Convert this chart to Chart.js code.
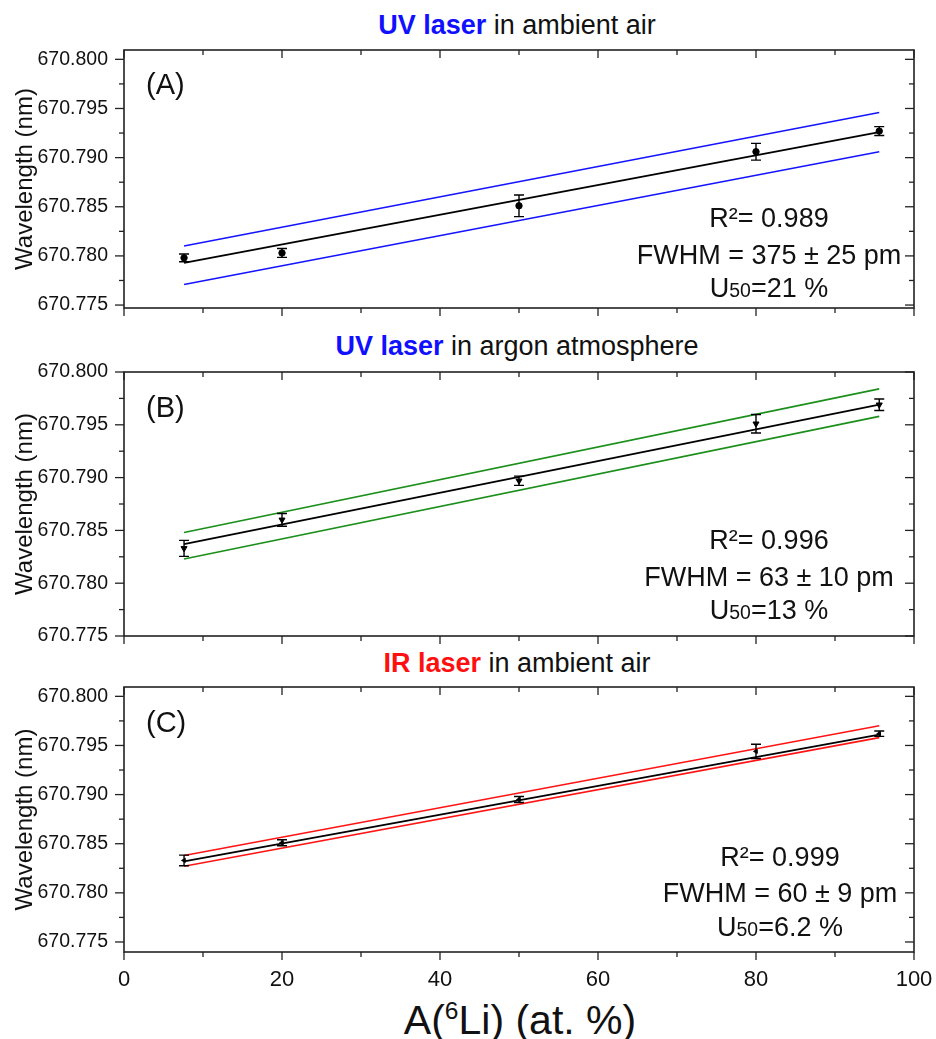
<!DOCTYPE html>
<html>
<head>
<meta charset="utf-8">
<script src="https://cdn.jsdelivr.net/npm/chart.js@4.4.1/dist/chart.umd.min.js"></script>
<style>
  body { margin: 0; background: #fff; font-family: "Liberation Sans", Arial, sans-serif; color: #111; }
  #wrap { position: relative; width: 936px; height: 1039px; overflow: hidden; }
  canvas { position: absolute; left: 0; }
  .title { position: absolute; left: 517px; transform: translate(-50%, -50%); font-size: 27px; white-space: nowrap; line-height: 1; }
  .note { position: absolute; transform: translate(-50%, -50%); font-size: 27px; white-space: nowrap; line-height: 1; }
  .tag { position: absolute; left: 146px; transform: translateY(-50%); font-size: 29px; line-height: 1; }
  .xtitle { position: absolute; left: 520px; top: 1020px; transform: translate(-50%, -50%); font-size: 41px; white-space: nowrap; line-height: 1; }
  .sub { font-size: 0.72em; }
  sup { font-size: 0.6em; }
</style>
</head>
<body>
<div id="wrap">
  <div class="title" style="top:25px"><b style="color:#1010ff">UV laser</b> in ambient air</div>
  <div class="title" style="top:346px"><b style="color:#1010ff">UV laser</b> in argon atmosphere</div>
  <div class="title" style="top:663px"><b style="color:#ff1010">IR laser</b> in ambient air</div>

  <canvas id="chartA" width="936" height="282" style="top:38px"></canvas>
  <canvas id="chartB" width="936" height="288" style="top:360px"></canvas>
  <canvas id="chartC" width="936" height="317" style="top:675px"></canvas>

  <div class="tag" style="top:84px">(A)</div>
  <div class="tag" style="top:407px">(B)</div>
  <div class="tag" style="top:722px">(C)</div>

  <div class="note" style="left:769px;top:218px">R²= 0.989</div>
  <div class="note" style="left:769px;top:255px">FWHM = 375 ± 25 pm</div>
  <div class="note" style="left:769px;top:288px">U<span class="sub">50</span>=21 %</div>

  <div class="note" style="left:769px;top:540px">R²= 0.996</div>
  <div class="note" style="left:769px;top:577px">FWHM = 63 ± 10 pm</div>
  <div class="note" style="left:769px;top:610px">U<span class="sub">50</span>=13 %</div>

  <div class="note" style="left:780px;top:857px">R²= 0.999</div>
  <div class="note" style="left:780px;top:893px">FWHM = 60 ± 9 pm</div>
  <div class="note" style="left:780px;top:927px">U<span class="sub">50</span>=6.2 %</div>

  <div class="xtitle">A(<sup>6</sup>Li) (at. %)</div>
</div>

<script>
// sample 6Li abundance (at. %)
const abundance = [7.6, 20, 50, 80, 95.6];
// x range of the fitted / band lines
const lineX = [7.6, 95.6];

// (A) UV laser, ambient air
const waveA = [670.7798, 670.7803, 670.7851, 670.7906, 670.7927];
const errA = [0.0004, 0.00045, 0.0011, 0.00085, 0.00045];
const fitA = [670.7793, 670.7926];
const upperA = [670.7810, 670.7946];
const lowerA = [670.7771, 670.7906];

// (B) UV laser, argon
const waveB = [670.7833, 670.7860, 670.7897, 670.7951, 670.7969];
const errB = [0.00076, 0.0006, 0.00044, 0.00088, 0.00055];
const fitB = [670.7837, 670.7969];
const upperB = [670.7848, 670.7984];
const lowerB = [670.7823, 670.7958];

// (C) IR laser, ambient air
const waveC = [670.7833, 670.7851, 670.7895, 670.7944, 670.7962];
const errC = [0.00054, 0.0003, 0.0003, 0.00073, 0.00027];
const fitC = [670.7832, 670.7961];
const upperC = [670.7838, 670.7970];
const lowerC = [670.7827, 670.7958];

const xTicks = [0, 20, 40, 60, 80, 100];
const yTicks = [670.775, 670.780, 670.785, 670.790, 670.795, 670.800];

const fontName = '"Liberation Sans", Arial, sans-serif';
const axisColor = '#222';

// box, inward/outward ticks and minor ticks
const framePlugin = {
    id: 'frame',
    afterDraw: (chart) => {
        const ctx = chart.ctx;
        const a = chart.chartArea;
        const xs = chart.scales.x;
        const ys = chart.scales.y;
        ctx.save();
        ctx.strokeStyle = axisColor;
        ctx.lineWidth = 1.6;
        ctx.setLineDash([]);
        ctx.strokeRect(a.left, a.top, a.right - a.left, a.bottom - a.top);
        ctx.lineWidth = 1.3;
        function seg(x1, y1, x2, y2) {
            ctx.beginPath();
            ctx.moveTo(x1, y1);
            ctx.lineTo(x2, y2);
            ctx.stroke();
        }
        // x: major + minor
        for (let i = 0; i < xTicks.length; i++) {
            const px = xs.getPixelForValue(xTicks[i]);
            seg(px, a.bottom, px, a.bottom + 8);
            seg(px, a.top, px, a.top + 8);
            if (i < xTicks.length - 1) {
                const pm = xs.getPixelForValue((xTicks[i] + xTicks[i + 1]) / 2);
                seg(pm, a.bottom, pm, a.bottom + 5);
                seg(pm, a.top, pm, a.top + 5);
            }
        }
        // y: major + minor
        for (let i = 0; i < yTicks.length; i++) {
            const py = ys.getPixelForValue(yTicks[i]);
            seg(a.left - 9, py, a.left, py);
            seg(a.right - 9, py, a.right, py);
            if (i < yTicks.length - 1) {
                const pm = ys.getPixelForValue((yTicks[i] + yTicks[i + 1]) / 2);
                seg(a.left - 5, pm, a.left, pm);
                seg(a.right - 5, pm, a.right, pm);
            }
        }
        ctx.restore();
    }
};

// vertical error bars with caps
const errorBarPlugin = {
    id: 'errorBars',
    afterDatasetsDraw: (chart) => {
        const ctx = chart.ctx;
        const xs = chart.scales.x;
        const ys = chart.scales.y;
        chart.data.datasets.forEach(ds => {
            if (!ds.errors) return;
            ctx.save();
            ctx.strokeStyle = '#000';
            ctx.lineWidth = 1.4;
            ds.data.forEach((p, i) => {
                const px = xs.getPixelForValue(p.x);
                const top = ys.getPixelForValue(p.y + ds.errors[i]);
                const bot = ys.getPixelForValue(p.y - ds.errors[i]);
                ctx.beginPath();
                ctx.moveTo(px, top); ctx.lineTo(px, bot);
                ctx.moveTo(px - 5, top); ctx.lineTo(px + 5, top);
                ctx.moveTo(px - 5, bot); ctx.lineTo(px + 5, bot);
                ctx.stroke();
            });
            ctx.restore();
        });
    }
};

function pairs(xv, yv) {
    return xv.map((x, i) => ({ x: x, y: yv[i] }));
}

function makePanel(id, wave, err, fit, upper, lower, bandColor, marker, yMin, yMax, showXLabels) {
    const xAxisHeight = showXLabels ? 40 : 12;
    return new Chart(document.getElementById(id).getContext('2d'), {
        type: 'scatter',
        data: {
            datasets: [
                { data: pairs(lineX, upper), showLine: true, borderColor: bandColor, borderWidth: 1.6, pointRadius: 0 },
                { data: pairs(lineX, lower), showLine: true, borderColor: bandColor, borderWidth: 1.6, pointRadius: 0 },
                { data: pairs(lineX, fit), showLine: true, borderColor: '#000', borderWidth: 1.8, pointRadius: 0 },
                {
                    data: pairs(abundance, wave),
                    errors: err,
                    showLine: false,
                    pointStyle: marker.style,
                    rotation: marker.rotation,
                    pointRadius: marker.radius,
                    backgroundColor: '#000',
                    borderColor: '#000',
                    borderWidth: 1
                }
            ]
        },
        options: {
            responsive: false,
            animation: false,
            devicePixelRatio: 1,
            layout: { padding: { left: 0, right: 22, top: 12, bottom: 0 } },
            plugins: { legend: { display: false }, tooltip: { enabled: false } },
            scales: {
                x: {
                    type: 'linear',
                    min: 0,
                    max: 100,
                    grid: { display: false, drawTicks: false },
                    border: { display: false },
                    afterBuildTicks: function (scale) {
                        scale.ticks = xTicks.map(v => ({ value: v }));
                    },
                    ticks: {
                        display: showXLabels,
                        padding: 15,
                        color: '#111',
                        font: { family: fontName, size: 22 }
                    },
                    afterFit: function (scale) {
                        scale.height = xAxisHeight;
                        scale.paddingLeft = 0;
                        scale.paddingRight = 0;
                    }
                },
                y: {
                    type: 'linear',
                    min: yMin,
                    max: yMax,
                    grid: { display: false, drawTicks: false },
                    border: { display: false },
                    afterBuildTicks: function (scale) {
                        scale.ticks = yTicks.map(v => ({ value: v }));
                    },
                    ticks: {
                        padding: 16,
                        color: '#111',
                        font: { family: fontName, size: 19.5 },
                        callback: v => Number(v).toFixed(3)
                    },
                    title: {
                        display: true,
                        text: 'Wavelength (nm)',
                        color: '#111',
                        font: { family: fontName, size: 24 },
                        padding: { top: 11, bottom: 0 }
                    },
                    afterFit: function (scale) {
                        scale.width = 124;
                        scale.paddingTop = 0;
                        scale.paddingBottom = 0;
                    }
                }
            }
        },
        plugins: [framePlugin, errorBarPlugin]
    });
}

makePanel('chartA', waveA, errA, fitA, upperA, lowerA, '#1414ff',
    { style: 'circle', rotation: 0, radius: 3.2 }, 670.7747, 670.80095, false);
makePanel('chartB', waveB, errB, fitB, upperB, lowerB, '#1a8f1a',
    { style: 'triangle', rotation: 180, radius: 3.5 }, 670.775, 670.800, false);
makePanel('chartC', waveC, errC, fitC, upperC, lowerC, '#ff1414',
    { style: 'triangle', rotation: 270, radius: 2.5 }, 670.77398, 670.80095, true);
</script>
</body>
</html>
